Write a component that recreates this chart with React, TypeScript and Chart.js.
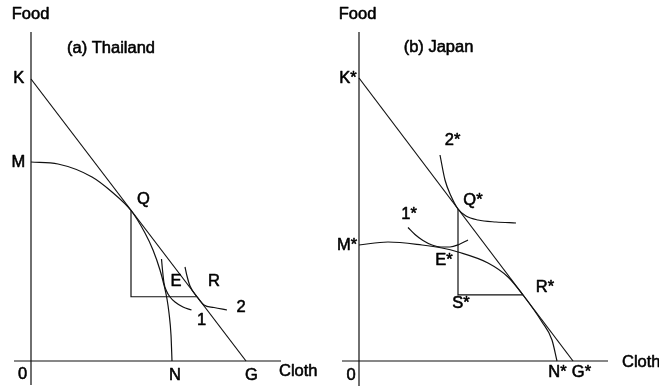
import { useEffect, useRef } from "react";
import { Chart, registerables } from "chart.js";

Chart.register(...registerables);

type Pt = { x: number; y: number };
type Label = { text: string; x: number; y: number; align?: CanvasTextAlign };

// ---------- (a) Thailand ----------
const thaiAxisFood: Pt[] = [{ x: 0, y: 131.6 }, { x: 0, y: -9.6 }];
const thaiAxisCloth: Pt[] = [{ x: -6.8, y: 0 }, { x: 100, y: 0 }];
const thaiPriceLine: Pt[] = [{ x: 0, y: 112.8 }, { x: 86, y: 0 }]; // K to G
const thaiPPF: Pt[] = [
  { x: 0, y: 79.6 }, { x: 10.8, y: 78.8 }, { x: 24.4, y: 73.6 }, { x: 32.4, y: 67.6 },
  { x: 40, y: 60.2 }, { x: 45.6, y: 51.2 }, { x: 48.8, y: 44.4 }, { x: 51.6, y: 36.4 },
  { x: 53.2, y: 30.4 }, { x: 54.4, y: 24.8 }, { x: 55.2, y: 19.2 }, { x: 56, y: 10.4 },
  { x: 56.4, y: 0 },
];
const thaiIC1: Pt[] = [
  { x: 52.2, y: 40.8 }, { x: 52.6, y: 36.4 }, { x: 53.2, y: 31.2 }, { x: 54.2, y: 28 },
  { x: 55.6, y: 25.6 }, { x: 57.6, y: 23.6 }, { x: 60.8, y: 21.6 }, { x: 64.2, y: 20.4 },
];
const thaiIC2: Pt[] = [
  { x: 61.6, y: 37.6 }, { x: 62.4, y: 34 }, { x: 63.6, y: 30 }, { x: 66.4, y: 25.7 },
  { x: 69.2, y: 22.4 }, { x: 73.2, y: 21.4 }, { x: 78.4, y: 20.4 },
];
const thaiTriangle: Pt[] = [{ x: 40, y: 60.3 }, { x: 40, y: 25.7 }, { x: 66.4, y: 25.7 }];
const thaiLabels: Label[] = [
  { text: "Food", x: -0.2, y: 138.8 },
  { text: "(a) Thailand", x: 32, y: 125.2 },
  { text: "K", x: -4.9, y: 113 },
  { text: "M", x: -5.1, y: 79.6 },
  { text: "Q", x: 45, y: 64.8 },
  { text: "E", x: 58, y: 32 },
  { text: "R", x: 73.2, y: 32 },
  { text: "1", x: 68.2, y: 16.4 },
  { text: "2", x: 84, y: 21.4 },
  { text: "0", x: -3.4, y: -5.2 },
  { text: "N", x: 57.6, y: -5.6 },
  { text: "G", x: 88.2, y: -5.6 },
  { text: "Cloth", x: 99.2, y: -4, align: "left" },
];

// ---------- (b) Japan ----------
const japanAxisFood: Pt[] = [{ x: 0, y: 131.6 }, { x: 0, y: -10 }];
const japanAxisCloth: Pt[] = [{ x: -6.8, y: 0 }, { x: 99.6, y: 0 }];
const japanPriceLine: Pt[] = [{ x: 0, y: 113.2 }, { x: 85.6, y: 0 }]; // K* to G*
const japanPPF: Pt[] = [
  { x: 0, y: 46.4 }, { x: 11.6, y: 47.6 }, { x: 25.2, y: 46.4 }, { x: 33.2, y: 45.2 },
  { x: 39.6, y: 43.6 }, { x: 51.6, y: 39.2 }, { x: 59.6, y: 33.6 }, { x: 65.6, y: 26.4 },
  { x: 73.2, y: 15.6 }, { x: 77.2, y: 8.4 }, { x: 79.2, y: 0 },
];
const japanIC1: Pt[] = [
  { x: 19.6, y: 53.4 }, { x: 22.4, y: 50.6 }, { x: 25.6, y: 48.2 }, { x: 29.2, y: 46.4 },
  { x: 32.8, y: 45.6 }, { x: 36.4, y: 45.6 }, { x: 40, y: 46.6 }, { x: 43.6, y: 48.4 },
];
const japanIC2: Pt[] = [
  { x: 32.4, y: 82.4 }, { x: 34.4, y: 72.4 }, { x: 36.8, y: 66 }, { x: 39.6, y: 60.8 },
  { x: 42.8, y: 58 }, { x: 47.6, y: 56.4 }, { x: 54.8, y: 55.6 }, { x: 62.8, y: 55.2 },
];
const japanTriangle: Pt[] = [{ x: 39.6, y: 60.8 }, { x: 39.6, y: 26.45 }, { x: 65.6, y: 26.45 }];
const japanLabels: Label[] = [
  { text: "Food", x: -0.6, y: 138.8 },
  { text: "(b) Japan", x: 31.8, y: 125.6 },
  { text: "K*", x: -4.4, y: 113.2 },
  { text: "2*", x: 37.4, y: 88.4 },
  { text: "Q*", x: 45.6, y: 64.4 },
  { text: "1*", x: 20, y: 58.8 },
  { text: "M*", x: -4.8, y: 46.4 },
  { text: "E*", x: 34, y: 40.4 },
  { text: "R*", x: 74.4, y: 29.6 },
  { text: "S*", x: 40.8, y: 23.2 },
  { text: "0", x: -3.2, y: -5.6 },
  { text: "N*", x: 79.4, y: -4.4 },
  { text: "G*", x: 89, y: -4.4 },
  { text: "Cloth", x: 105.2, y: -0.6, align: "left" },
];

const INK = "#111111";
const FONT = '16.5px "Liberation Sans", Arial, sans-serif';

const labelPlugin = {
  id: "pointLabels",
  afterDatasetsDraw(chart: any) {
    const labels: Label[] = chart.options.plugins.pointLabels?.labels ?? [];
    const { ctx } = chart;
    const xs = chart.scales.x;
    const ys = chart.scales.y;
    ctx.save();
    ctx.fillStyle = "#000";
    ctx.strokeStyle = "#000";
    ctx.lineWidth = 0.55;
    ctx.lineJoin = "round";
    ctx.font = FONT;
    ctx.textBaseline = "middle";
    for (const l of labels) {
      ctx.textAlign = l.align ?? "center";
      const px = xs.getPixelForValue(l.x);
      const py = ys.getPixelForValue(l.y);
      ctx.fillText(l.text, px, py);
      ctx.strokeText(l.text, px, py);
    }
    ctx.restore();
  },
};

function lineSet(data: Pt[], curved: boolean) {
  return {
    data,
    showLine: true,
    pointRadius: 0,
    borderColor: INK,
    borderWidth: 1.2,
    fill: false,
    tension: 0,
    cubicInterpolationMode: curved ? ("monotone" as const) : ("default" as const),
  };
}

type PanelProps = {
  width: number;
  xMin: number;
  xMax: number;
  curves: Pt[][];
  lines: Pt[][];
  labels: Label[];
};

function Panel({ width, xMin, xMax, curves, lines, labels }: PanelProps) {
  const ref = useRef<HTMLCanvasElement | null>(null);
  useEffect(() => {
    if (!ref.current) return;
    const chart = new Chart(ref.current, {
      type: "scatter",
      data: {
        datasets: [
          ...lines.map((d) => lineSet(d, false)),
          ...curves.map((d) => lineSet(d, true)),
        ],
      },
      options: {
        responsive: false,
        animation: false,
        layout: { padding: 0 },
        events: [],
        plugins: {
          legend: { display: false },
          tooltip: { enabled: false },
          pointLabels: { labels },
        } as any,
        scales: {
          x: { type: "linear", min: xMin, max: xMax, display: false },
          y: { type: "linear", min: -11.2, max: 144.4, display: false },
        },
      },
      plugins: [labelPlugin],
    });
    return () => chart.destroy();
  }, []);
  return <canvas ref={ref} width={width} height={389} style={{ display: "block", width, height: 389 }} />;
}

export default function App() {
  return (
    <div style={{ position: "fixed", left: 0, top: 0, width: 659, height: 389, display: "flex", background: "#fff" }}>
      <Panel
        width={330}
        xMin={-12.4}
        xMax={119.6}
        lines={[thaiAxisFood, thaiAxisCloth, thaiPriceLine, thaiTriangle]}
        curves={[thaiPPF, thaiIC1, thaiIC2]}
        labels={thaiLabels}
      />
      <Panel
        width={329}
        xMin={-11.6}
        xMax={120}
        lines={[japanAxisFood, japanAxisCloth, japanPriceLine, japanTriangle]}
        curves={[japanPPF, japanIC1, japanIC2]}
        labels={japanLabels}
      />
    </div>
  );
}
